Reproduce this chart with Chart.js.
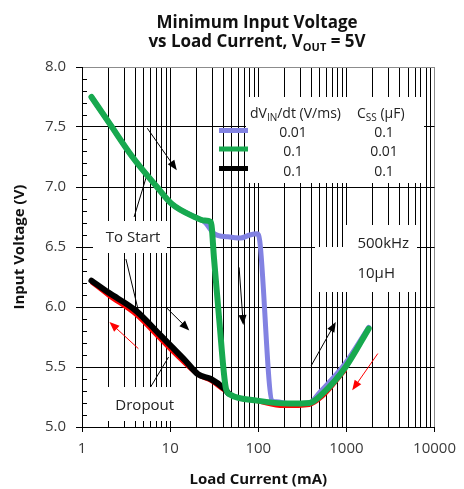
<!DOCTYPE html>
<html>
<head>
<meta charset="utf-8">
<script src="https://cdn.jsdelivr.net/npm/chart.js@4.4.1/dist/chart.umd.min.js"></script>
<style>
  html, body { margin: 0; padding: 0; background: #fff; }
</style>
</head>
<body>
<canvas id="chart" width="464" height="489"></canvas>
<script>
// values: load current (mA) and input voltage (V)
var blueI = [1.28, 2.05, 3.74, 7.1, 10.4, 19, 24.5, 31.8, 45, 63, 80, 97, 104, 143, 160, 228, 380, 500, 950, 1790];
var blueV = [7.75, 7.53, 7.25, 7.0, 6.86, 6.75, 6.71, 6.61, 6.585, 6.575, 6.6, 6.61, 6.55, 5.22, 5.21, 5.195, 5.2, 5.29, 5.52, 5.83];

var greenI = [1.28, 2.05, 3.74, 7.1, 10.4, 19, 24.5, 29, 31.5, 36, 43, 48, 97, 228, 380, 540, 980, 1790];
var greenV = [7.75, 7.53, 7.25, 7.0, 6.86, 6.75, 6.72, 6.71, 6.40, 5.90, 5.32, 5.27, 5.22, 5.195, 5.2, 5.28, 5.5, 5.82];

var blackI = [1.28, 2, 4.08, 7.4, 10.4, 15, 20.7, 29, 41, 46];
var blackV = [6.22, 6.12, 5.97, 5.78, 5.67, 5.55, 5.44, 5.40, 5.32, 5.28];

var redI = [1.28, 2, 4.08, 7.4, 10.4, 20.7, 29, 41, 60, 97, 193, 380, 540, 980];
var redV = [6.20, 6.09, 5.93, 5.74, 5.63, 5.43, 5.38, 5.30, 5.24, 5.21, 5.17, 5.18, 5.25, 5.47];

var xMajor = [1, 10, 100, 1000, 10000];
var yTicks = [5.0, 5.5, 6.0, 6.5, 7.0, 7.5, 8.0];

var legendRows = [
  ['0.01', '0.1'],
  ['0.1', '0.01'],
  ['0.1', '0.1']
];

// white boxes behind the text, [I from, I to, V top, V bottom]
var maskBoxes = [
  [1.33, 9.12, 6.72, 6.448],
  [1.59, 14.1, 5.331, 5.047],
  [73, 7550, 7.747, 7.03],
  [955, 6400, 6.681, 6.122],
  [442, 6400, 6.498, 6.122]
];

// annotation arrows, [I0, V0, I1, V1, colour, arrowhead]
var arrows = [
  [5.5, 7.49, 11.9, 7.14, '#000', true],
  [3.9, 6.75, 5.5, 7.11, '#000', false],
  [3.15, 6.40, 4.44, 5.945, '#000', false],
  [9.2, 5.99, 16.5, 5.805, '#000', true],
  [60.6, 6.33, 67.6, 5.85, '#000', true],
  [398, 5.51, 757, 5.875, '#000', true],
  [6.0, 5.333, 9.6, 5.583, '#000', false],
  [4.36, 5.653, 2.05, 5.875, '#ff0000', true],
  [2270, 5.612, 1164, 5.306, '#ff0000', true]
];

// plot labels, [text, I, V, align]
var notes = [
  ['To Start', 3.8, 6.58, 'center'],
  ['Dropout', 5.15, 5.18, 'center'],
  ['500kHz', 1334, 6.528, 'left'],
  ['10\u03bcH', 1334, 6.28, 'left']
];

var FONT = '"Open Sans", "DejaVu Sans", sans-serif';
var colours = ['#8282e2', '#17a94f', '#000000', '#ff0000'];

var xGrid = [];
for (var d = 0; d < xMajor.length - 1; d++) {
  for (var k = 1; k < 10; k++) xGrid.push(xMajor[d] * k);
}
xGrid.push(xMajor[xMajor.length - 1]);

function pts(xs, ys) {
  return xs.map(function (v, i) { return {x: v, y: ys[i]}; });
}

function drawArrow(ctx, x0, y0, x1, y1, color, head) {
  ctx.save();
  ctx.strokeStyle = color;
  ctx.fillStyle = color;
  ctx.lineWidth = 1;
  var ang = Math.atan2(y1 - y0, x1 - x0);
  var len = head ? 10 : 0;
  ctx.beginPath();
  ctx.moveTo(x0, y0);
  ctx.lineTo(x1 - Math.cos(ang) * len * 0.8, y1 - Math.sin(ang) * len * 0.8);
  ctx.stroke();
  if (head) {
    ctx.beginPath();
    ctx.moveTo(x1, y1);
    ctx.lineTo(x1 - Math.cos(ang) * len + Math.sin(ang) * 4, y1 - Math.sin(ang) * len - Math.cos(ang) * 4);
    ctx.lineTo(x1 - Math.cos(ang) * len - Math.sin(ang) * 4, y1 - Math.sin(ang) * len + Math.cos(ang) * 4);
    ctx.closePath();
    ctx.fill();
  }
  ctx.restore();
}

// draw text made of pieces, some of them subscripts
function richText(ctx, parts, x, y, align) {
  var w = 0;
  parts.forEach(function (p) { ctx.font = p.font; w += ctx.measureText(p.t).width; });
  var cx = align === 'center' ? x - w / 2 : x;
  ctx.textAlign = 'left';
  ctx.textBaseline = 'alphabetic';
  parts.forEach(function (p) {
    ctx.font = p.font;
    ctx.fillText(p.t, cx, y + (p.dy || 0));
    cx += ctx.measureText(p.t).width;
  });
}

var overlay = {
  id: 'overlay',
  beforeDatasetsDraw: function (chart) {
    var ctx = chart.ctx, a = chart.chartArea, x = chart.scales.x, y = chart.scales.y;
    ctx.save();
    // minor ticks on the inside of the voltage axis
    ctx.strokeStyle = '#000';
    ctx.lineWidth = 1;
    for (var i = 0; i < yTicks.length - 1; i++) {
      for (var m = 1; m < 5; m++) {
        var py = Math.round(y.getPixelForValue(yTicks[i] + m * 0.1)) + 0.5;
        ctx.beginPath();
        ctx.moveTo(a.left, py);
        ctx.lineTo(a.left + 5, py);
        ctx.stroke();
      }
    }
    // white boxes that hide the grid behind labels
    ctx.fillStyle = '#fff';
    maskBoxes.forEach(function (b) {
      var x0 = Math.round(x.getPixelForValue(b[0])), x1 = Math.round(x.getPixelForValue(b[1]));
      var y0 = Math.round(y.getPixelForValue(b[2])), y1 = Math.round(y.getPixelForValue(b[3]));
      ctx.fillRect(x0, y0, x1 - x0, y1 - y0);
    });
    arrows.forEach(function (r) {
      drawArrow(ctx, x.getPixelForValue(r[0]), y.getPixelForValue(r[1]),
        x.getPixelForValue(r[2]), y.getPixelForValue(r[3]), r[4], r[5]);
    });
    ctx.fillStyle = '#222';
    ctx.font = '15px ' + FONT;
    ctx.textBaseline = 'middle';
    notes.forEach(function (n) {
      ctx.textAlign = n[3];
      ctx.fillText(n[0], x.getPixelForValue(n[1]), y.getPixelForValue(n[2]));
    });

    // legend
    var lx = 219, lw = 29, rowY = [133, 152.5, 172];
    var swatchY = [130.5, 149, 168.5];
    ctx.fillStyle = '#222';
    var f = '14px ' + FONT, fs = '10px ' + FONT;
    richText(ctx, [{t: 'dV', font: f}, {t: 'IN', font: fs, dy: 3}, {t: '/dt (V/ms)', font: f}], 250, 118, 'left');
    richText(ctx, [{t: 'C', font: f}, {t: 'SS', font: fs, dy: 3}, {t: ' (\u03bcF)', font: f}], 357, 118, 'left');
    ctx.font = f;
    ctx.textAlign = 'center';
    ctx.textBaseline = 'middle';
    legendRows.forEach(function (r, i) {
      ctx.fillStyle = '#222';
      ctx.fillText(r[0], 293, rowY[i]);
      ctx.fillText(r[1], 384, rowY[i]);
      ctx.strokeStyle = colours[i];
      ctx.lineWidth = 5;
      ctx.beginPath();
      ctx.moveTo(lx, swatchY[i]);
      ctx.lineTo(lx + lw, swatchY[i]);
      ctx.stroke();
    });
    ctx.restore();
  },
  afterDraw: function (chart) {
    var ctx = chart.ctx;
    ctx.save();
    ctx.fillStyle = '#111';
    var tb = 'bold 17px ' + FONT, ts = 'bold 11px ' + FONT;
    richText(ctx, [{t: 'Minimum Input Voltage', font: tb}], 257, 28, 'center');
    richText(ctx, [{t: 'vs Load Current, V', font: tb}, {t: 'OUT', font: ts, dy: 4}, {t: ' = 5V', font: tb}], 257, 47, 'center');
    ctx.restore();
  }
};

new Chart(document.getElementById('chart'), {
  type: 'line',
  data: {
    datasets: [
      {label: '0.01 / 0.1', data: pts(blueI, blueV), borderColor: colours[0], borderWidth: 5, order: 1},
      {label: '0.1 / 0.01', data: pts(greenI, greenV), borderColor: colours[1], borderWidth: 6, order: 0},
      {label: '0.1 / 0.1', data: pts(blackI, blackV), borderColor: colours[2], borderWidth: 6, order: 2},
      {label: 'dropout', data: pts(redI, redV), borderColor: colours[3], borderWidth: 3, order: 3}
    ]
  },
  options: {
    responsive: false,
    animation: false,
    layout: {padding: {top: 67, right: 23, left: 0, bottom: 0}},
    elements: {
      point: {radius: 0},
      line: {cubicInterpolationMode: 'monotone', fill: false, borderCapStyle: 'round', borderJoinStyle: 'round'}
    },
    plugins: {legend: {display: false}, title: {display: false}, tooltip: {enabled: false}},
    scales: {
      x: {
        type: 'logarithmic',
        min: 1,
        max: 10000,
        afterBuildTicks: function (s) {
          s.ticks = xGrid.map(function (v) { return {value: v, major: xMajor.indexOf(v) >= 0}; });
        },
        afterFit: function (s) { s.height = 62; },
        ticks: {
          autoSkip: false,
          maxRotation: 0,
          padding: 8,
          color: '#3a3a3a',
          font: {family: FONT, size: 15},
          callback: function (v) { return xMajor.indexOf(v) >= 0 ? String(v) : ''; }
        },
        grid: {
          lineWidth: 1,
          tickLength: 5,
          color: function (c) { return c.tick && c.tick.value === 10000 ? '#8c8c8c' : '#000'; },
          tickColor: function (c) { return c.tick && xMajor.indexOf(c.tick.value) >= 0 ? '#000' : 'rgba(0,0,0,0)'; }
        },
        border: {color: '#000', width: 1},
        title: {
          display: true,
          text: 'Load Current (mA)',
          color: '#111',
          font: {family: FONT, size: 15, weight: 'bold'},
          padding: {top: 3, bottom: 0}
        }
      },
      y: {
        min: 5,
        max: 8,
        afterBuildTicks: function (s) {
          s.ticks = yTicks.map(function (v) { return {value: v}; });
        },
        afterFit: function (s) { s.width = 82; },
        ticks: {
          padding: 10,
          color: '#3a3a3a',
          font: {family: FONT, size: 15},
          callback: function (v) { return v.toFixed(1); }
        },
        grid: {
          lineWidth: 1,
          tickLength: 6,
          color: function (c) { return c.tick && c.tick.value === 8 ? '#8c8c8c' : '#000'; },
          tickColor: '#000'
        },
        border: {color: '#000', width: 1},
        title: {
          display: true,
          text: 'Input Voltage (V)',
          color: '#111',
          font: {family: FONT, size: 15, weight: 'bold'},
          padding: {top: 11, bottom: 0}
        }
      }
    }
  },
  plugins: [overlay]
});
</script>
</body>
</html>
